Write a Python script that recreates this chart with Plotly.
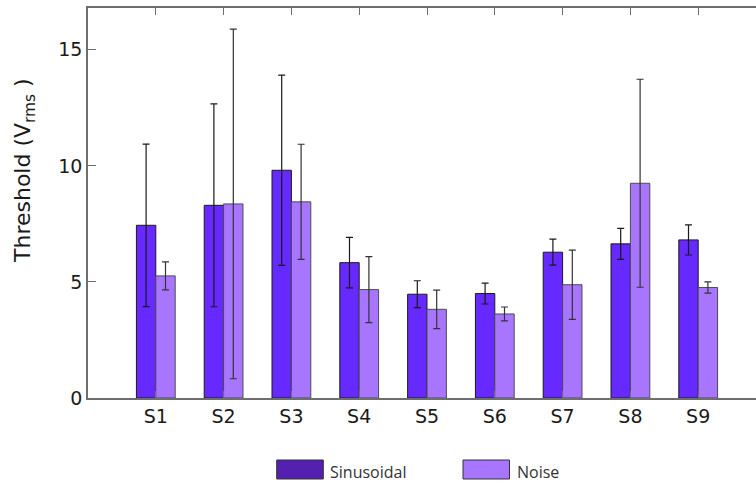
import plotly.graph_objects as go

categories = ["S1", "S2", "S3", "S4", "S5", "S6", "S7", "S8", "S9"]
sinusoidal = [7.44, 8.30, 9.81, 5.83, 4.47, 4.50, 6.28, 6.64, 6.81]
sinusoidal_err = [3.50, 4.37, 4.10, 1.09, 0.58, 0.45, 0.56, 0.67, 0.65]
noise = [5.26, 8.36, 8.45, 4.67, 3.82, 3.62, 4.88, 9.25, 4.76]
noise_err = [0.60, 7.53, 2.48, 1.42, 0.83, 0.30, 1.49, 4.48, 0.24]
y_ticks = [0, 5, 10, 15]

W, H = 756, 487
L, R, T, B = 88, 0, 8, 89
pw, ph = W - L - R, H - T - B

xpos = list(range(1, len(categories) + 1))

fig = go.Figure()
fig.add_trace(go.Bar(
    x=xpos, y=sinusoidal, name="Sinusoidal",
    marker=dict(color="#6629FF", line=dict(color="#1a1a1a", width=1)),
    error_y=dict(type="data", array=sinusoidal_err, color="#1a1a1a", thickness=1.2, width=3.5),
    showlegend=False,
))
fig.add_trace(go.Bar(
    x=xpos, y=noise, name="Noise",
    marker=dict(color="#A875FF", line=dict(color="#4d4d4d", width=1)),
    error_y=dict(type="data", array=noise_err, color="#333333", thickness=1.2, width=3.5),
    showlegend=False,
))

def px_x(px):
    return (px - L) / pw

def px_y(py):
    return (H - B - py) / ph

shapes = []
annotations = []
legend_items = [("Sinusoidal", "#5520B0", 276.7, 323.3, 328),
                ("Noise", "#A875FF", 463, 509.5, 514.5)]
for label, col, x0, x1, tx in legend_items:
    shapes.append(dict(type="rect", xref="paper", yref="paper",
                       x0=px_x(x0), x1=px_x(x1), y0=px_y(479), y1=px_y(460),
                       fillcolor=col, line=dict(color="#333333", width=1)))
    annotations.append(dict(text=label, xref="paper", yref="paper",
                            x=px_x(tx), y=px_y(471.5), xanchor="left", yanchor="middle",
                            showarrow=False,
                            font=dict(family="Open Sans", size=16, color="#333333")))

annotations.append(dict(text="Threshold (V<sub>rms</sub> )", xref="paper", yref="paper",
                        x=px_x(25), y=px_y(171), xanchor="center", yanchor="middle",
                        textangle=-90, showarrow=False,
                        font=dict(family="DejaVu Sans", size=22, color="#1a1a1a")))

fig.update_layout(
    width=W, height=H,
    margin=dict(l=L, r=R, t=T, b=B, pad=0),
    plot_bgcolor="white", paper_bgcolor="white",
    barmode="group", bargap=0.428, bargroupgap=0,
    font=dict(family="DejaVu Sans", size=19, color="#1a1a1a"),
    shapes=shapes, annotations=annotations,
    xaxis=dict(range=[0, pw / 67.8], tickmode="array", tickvals=xpos, ticktext=categories,
               showline=True, linecolor="#6e6e6e", linewidth=1.5, mirror="ticks",
               ticks="inside", ticklen=7, tickcolor="#6e6e6e", tickwidth=1.3,
               showgrid=False, zeroline=False, tickfont=dict(size=19)),
    yaxis=dict(range=[0, 16.8], tickmode="array", tickvals=y_ticks,
               showline=True, linecolor="#6e6e6e", linewidth=1.5, mirror=False,
               ticks="inside", ticklen=8, tickcolor="#6e6e6e", tickwidth=1.3,
               showgrid=False, zeroline=False, tickfont=dict(size=19)),
)

fig.write_html("out.html")
